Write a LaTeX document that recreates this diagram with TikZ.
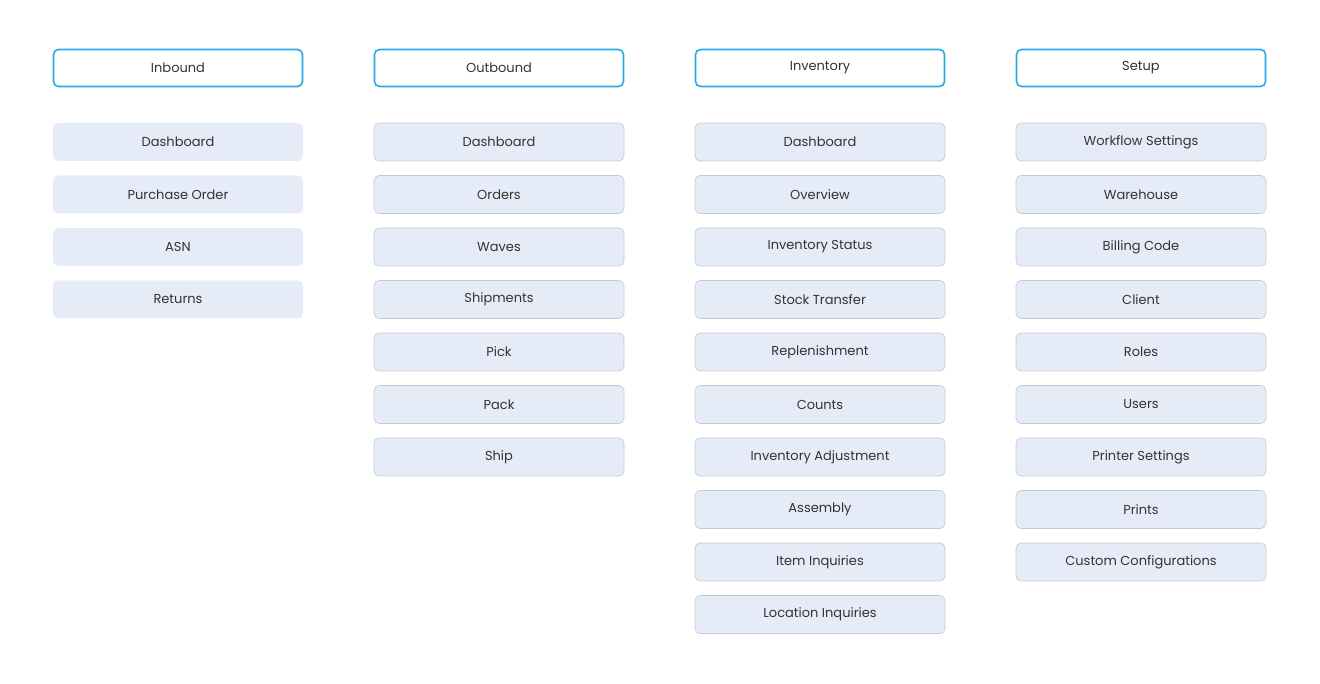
\documentclass[tikz,border=0pt]{standalone}
\usepackage{fontspec}
\setmainfont{Poppins}
\definecolor{headblue}{HTML}{29ABE2}
\definecolor{itemfill}{HTML}{E6ECF7}
\definecolor{itemline}{HTML}{C4C8CF}
\definecolor{txt}{HTML}{333333}
\tikzset{
  headbox/.style={draw=headblue, line width=1.6pt, fill=white, rounded corners=5pt,
    minimum width=249pt, minimum height=37pt, text=txt, font=\fontsize{13}{15}\selectfont},
  itembox/.style={draw=itemline, line width=0.6pt, fill=itemfill, rounded corners=5pt,
    minimum width=250pt, minimum height=38pt, text=txt, font=\fontsize{13}{15}\selectfont},
  plainbox/.style={itembox, draw=none}
}
\begin{document}
\begin{tikzpicture}[x=1pt,y=1pt]
    \useasboundingbox (0,0) rectangle (1320,683);

    % column headers
    \node[headbox] (inbound) at (178,615) {Inbound};
    \node[headbox] (outbound) at (499,615) {Outbound};
    \node[headbox] (inventory) at (820,615) {Inventory};
    \node[headbox] (setup) at (1141,615) {Setup};

    % inbound
    \foreach \t [count=\i] in {Dashboard,Purchase Order,ASN,Returns}
        \node[plainbox] (in\i) at (178,{541-52.5*(\i-1)}) {\t};

    % outbound
    \foreach \t [count=\i] in {Dashboard,Orders,Waves,Shipments,Pick,Pack,Ship}
        \node[itembox] (out\i) at (499,{541-52.5*(\i-1)}) {\t};

    % inventory
    \foreach \t [count=\i] in {Dashboard,Overview,Inventory Status,Stock Transfer,
        Replenishment,Counts,Inventory Adjustment,Assembly,Item Inquiries,Location Inquiries}
        \node[itembox] (inv\i) at (820,{541-52.5*(\i-1)}) {\t};

    % setup
    \foreach \t [count=\i] in {Workflow Settings,Warehouse,Billing Code,Client,Roles,
        Users,Printer Settings,Prints,Custom Configurations}
        \node[itembox] (set\i) at (1141,{541-52.5*(\i-1)}) {\t};
\end{tikzpicture}
\end{document}
